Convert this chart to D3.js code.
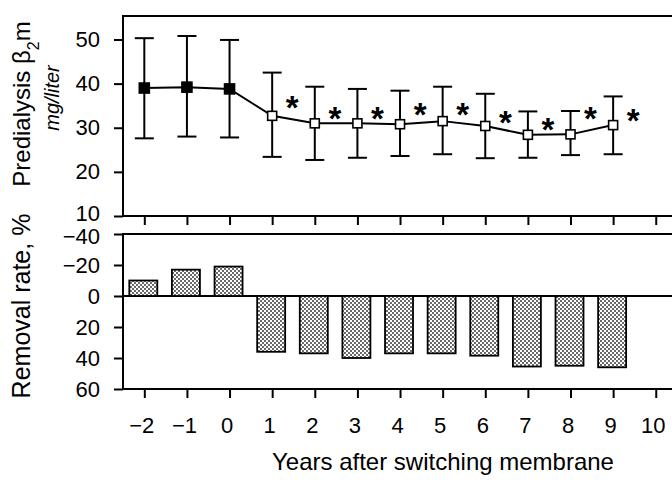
<!DOCTYPE html>
<html>
<head>
<meta charset="utf-8">
<script src="https://cdn.jsdelivr.net/npm/d3@7"></script>
<style>
	body { margin: 0; background: #fff; }
	svg text { font-family: Arial, "Liberation Sans", Helvetica, sans-serif; fill: #000; }
</style>
</head>
<body>
<div id="chart"></div>
<script>
// years on the x axis
const years = [-2, -1, 0, 1, 2, 3, 4, 5, 6, 7, 8, 9];
const xTickValues = [-2, -1, 0, 1, 2, 3, 4, 5, 6, 7, 8, 9, 10];

// predialysis beta2m, mg/liter (mean, upper and lower error bar)
const b2mMean = [39.0, 39.2, 38.8, 32.7, 31.0, 31.0, 30.8, 31.5, 30.4, 28.4, 28.5, 30.6];
const b2mHigh = [50.3, 50.8, 49.9, 42.5, 39.3, 38.8, 38.4, 39.3, 37.7, 33.7, 33.8, 37.1];
const b2mLow = [27.6, 28.0, 27.8, 23.4, 22.7, 23.2, 23.6, 24.0, 23.1, 23.2, 23.8, 24.0];
// filled markers before the switch, open markers after
const switched = [false, false, false, true, true, true, true, true, true, true, true, true];

// significance asterisks (year, height in mg/liter)
const starYears = [1, 2, 3, 4, 5, 6, 7, 8, 9];
const starLevels = [36.3, 33.8, 33.8, 34.7, 34.7, 32.9, 31.2, 33.8, 33.4];

// removal rate, % (negative = above the zero line)
const removalRate = [-10, -17, -19, 36, 37, 40, 37, 37, 38.5, 45.5, 45, 46];

const topTicks = [10, 20, 30, 40, 50];
const bottomTicks = [-40, -20, 0, 20, 40, 60];

const width = 672, height = 482;
const left = 123, right = 680;
const topPanel = { top: 16, bottom: 216 };
const botPanel = { top: 234, bottom: 389 };

const svg = d3.select('#chart').append('svg')
	.attr('width', width)
	.attr('height', height);

// stipple fill for the bars
const pat = svg.append('defs').append('pattern')
	.attr('id', 'dots')
	.attr('width', 4)
	.attr('height', 4)
	.attr('patternUnits', 'userSpaceOnUse');
pat.append('rect').attr('width', 4).attr('height', 4).attr('fill', '#fff');
pat.append('circle').attr('cx', 1).attr('cy', 1).attr('r', 0.9).attr('fill', '#222');
pat.append('circle').attr('cx', 3).attr('cy', 3).attr('r', 0.9).attr('fill', '#222');

// scales
const x = d3.scaleLinear().domain([-2.5, 10.5]).range([left, left + 13 * 42.62]);
const yTop = d3.scaleLinear().domain([10, 50]).range([topPanel.bottom, 39.5]);
const yBot = d3.scaleLinear().domain([-40, 60]).range([botPanel.top, botPanel.bottom]);

// frames
svg.append('rect')
	.attr('x', left).attr('y', topPanel.top)
	.attr('width', right - left).attr('height', topPanel.bottom - topPanel.top)
	.attr('fill', 'none').attr('stroke', '#000').attr('stroke-width', 2);
svg.append('rect')
	.attr('x', left).attr('y', botPanel.top)
	.attr('width', right - left).attr('height', botPanel.bottom - botPanel.top)
	.attr('fill', 'none').attr('stroke', '#000').attr('stroke-width', 2);

// axes
function styleAxis(g) {
	g.select('.domain').remove();
	g.selectAll('line').attr('stroke', '#000').attr('stroke-width', 2);
	g.selectAll('text').style('font-size', '22px');
}

svg.append('g')
	.attr('transform', `translate(${left},0)`)
	.call(d3.axisLeft(yTop).tickValues(topTicks).tickSize(9).tickPadding(14))
	.call(styleAxis)
	.selectAll('text').attr('dy', (d) => d === 10 ? '0.22em' : '0.32em');

svg.append('g')
	.attr('transform', `translate(${left},0)`)
	.call(d3.axisLeft(yBot).tickValues(bottomTicks).tickSize(9).tickPadding(14))
	.call(styleAxis)
	.selectAll('text').attr('dy', (d) => d === -40 ? '0.42em' : '0.32em');

svg.append('g')
	.attr('transform', `translate(0,${topPanel.bottom})`)
	.call(d3.axisBottom(x).tickValues(xTickValues).tickSize(9).tickFormat(''))
	.call(styleAxis);

svg.append('g')
	.attr('transform', `translate(0,${botPanel.bottom})`)
	.call(d3.axisBottom(x).tickValues(xTickValues).tickSize(9).tickPadding(19))
	.call(styleAxis)
	.selectAll('text').attr('dx', -3);

// zero line
svg.append('line')
	.attr('x1', left).attr('x2', right)
	.attr('y1', yBot(0)).attr('y2', yBot(0))
	.attr('stroke', '#000').attr('stroke-width', 2);

// bars
const barW = 28;
svg.append('g').selectAll('rect')
	.data(years)
	.join('rect')
	.attr('x', (d) => x(d) - barW / 2 - 1)
	.attr('width', barW)
	.attr('y', (d, i) => yBot(Math.min(0, removalRate[i])))
	.attr('height', (d, i) => Math.abs(yBot(removalRate[i]) - yBot(0)))
	.attr('fill', 'url(#dots)')
	.attr('stroke', '#000')
	.attr('stroke-width', 1.8);

// error bars
const capW = 19;
const errG = svg.append('g').attr('stroke', '#000').attr('stroke-width', 2);
errG.selectAll('.stem')
	.data(years)
	.join('line')
	.attr('class', 'stem')
	.attr('x1', (d) => x(d)).attr('x2', (d) => x(d))
	.attr('y1', (d, i) => yTop(b2mHigh[i]))
	.attr('y2', (d, i) => yTop(b2mLow[i]));
errG.selectAll('.capHi')
	.data(years)
	.join('line')
	.attr('class', 'capHi')
	.attr('x1', (d) => x(d) - capW / 2).attr('x2', (d) => x(d) + capW / 2)
	.attr('y1', (d, i) => yTop(b2mHigh[i])).attr('y2', (d, i) => yTop(b2mHigh[i]));
errG.selectAll('.capLo')
	.data(years)
	.join('line')
	.attr('class', 'capLo')
	.attr('x1', (d) => x(d) - capW / 2).attr('x2', (d) => x(d) + capW / 2)
	.attr('y1', (d, i) => yTop(b2mLow[i])).attr('y2', (d, i) => yTop(b2mLow[i]));

// mean line
const line = d3.line()
	.x((d) => x(d))
	.y((d, i) => yTop(b2mMean[i]));
svg.append('path')
	.datum(years)
	.attr('d', line)
	.attr('fill', 'none')
	.attr('stroke', '#000')
	.attr('stroke-width', 2);

// markers
svg.append('g').selectAll('rect')
	.data(years)
	.join('rect')
	.attr('x', (d, i) => x(d) - (switched[i] ? 4.5 : 5))
	.attr('y', (d, i) => yTop(b2mMean[i]) - (switched[i] ? 4.5 : 5))
	.attr('width', (d, i) => switched[i] ? 9 : 10)
	.attr('height', (d, i) => switched[i] ? 9 : 10)
	.attr('fill', (d, i) => switched[i] ? '#fff' : '#000')
	.attr('stroke', '#000')
	.attr('stroke-width', 1.6);

// asterisks
svg.append('g').selectAll('text')
	.data(starYears)
	.join('text')
	.attr('x', (d) => x(d + 0.47))
	.attr('y', (d, i) => yTop(starLevels[i]) + 19)
	.attr('text-anchor', 'middle')
	.style('font-size', '33px')
	.style('font-weight', 'bold')
	.text('*');

// axis titles
svg.append('text')
	.attr('transform', 'translate(29.5,104) rotate(-90)')
	.attr('text-anchor', 'middle')
	.style('font-size', '24px')
	.text('Predialysis β')
	.append('tspan')
	.attr('baseline-shift', 'sub')
	.style('font-size', '16px')
	.text('2')
	.select(function () { return this.parentNode; })
	.append('tspan')
	.text('m');

svg.append('text')
	.attr('transform', 'translate(59,98) rotate(-90)')
	.attr('text-anchor', 'middle')
	.style('font-size', '20px')
	.style('font-style', 'italic')
	.text('mg/liter');

svg.append('text')
	.attr('transform', 'translate(30,306) rotate(-90)')
	.attr('text-anchor', 'middle')
	.style('font-size', '25px')
	.text('Removal rate, %');

svg.append('text')
	.attr('x', 443)
	.attr('y', 470)
	.attr('text-anchor', 'middle')
	.style('font-size', '24px')
	.text('Years after switching membrane');
</script>
</body>
</html>
